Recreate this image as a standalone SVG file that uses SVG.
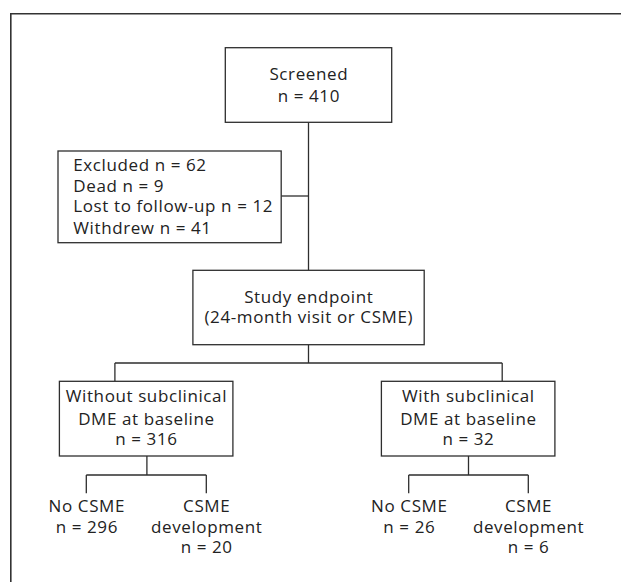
<svg xmlns="http://www.w3.org/2000/svg" width="621" height="582" viewBox="0 0 621 582">
<style>
.box{fill:#fff;stroke:#2e2e2e;stroke-width:1.3}
.ln{fill:none;stroke:#2e2e2e;stroke-width:1.3}
text{font-family:"Open Sans","Noto Sans","DejaVu Sans",sans-serif;font-size:17px;letter-spacing:0.6px;fill:#222}
.c{text-anchor:middle}
</style>
<rect width="621" height="582" fill="#fff"/>
<path d="M10.8,582 V13.8 H621" fill="none" stroke="#333" stroke-width="1.6"/>
<g id="connectors">
<path class="ln" d="M308.5,122.3 V270.3"/>
<path class="ln" d="M281.2,196 H308.5"/>
<path class="ln" d="M308.5,344.7 V363 M114.9,363 H502.2 M114.9,363 V381.3 M502.2,363 V381.3"/>
<path class="ln" d="M146.9,456 V475 M86.3,475 H206.3 M86.3,475 V493.3 M206.3,475 V493.3"/>
<path class="ln" d="M468.5,456 V475 M408.7,475 H528.3 M408.7,475 V493.3 M528.3,475 V493.3"/>
</g>
<g id="screened">
<rect class="box" x="225.3" y="47.7" width="166.4" height="74.6"/>
<text class="c" x="308.8" y="80">Screened</text>
<text class="c" x="308.8" y="101.7">n = 410</text>
</g>
<g id="excluded">
<rect class="box" x="58" y="151" width="223.2" height="91.7"/>
<text x="73.3" y="170.7">Excluded n = 62</text>
<text x="73.3" y="191.7">Dead n = 9</text>
<text x="73.3" y="212.3">Lost to follow-up n = 12</text>
<text x="73.3" y="234.3">Withdrew n = 41</text>
</g>
<g id="endpoint">
<rect class="box" x="192.9" y="270.3" width="231.3" height="74.4"/>
<text class="c" x="308.8" y="303.3">Study endpoint</text>
<text class="c" x="308.8" y="323.3">(24-month visit or CSME)</text>
</g>
<g id="without">
<rect class="box" x="59.4" y="381.3" width="173.5" height="74.7"/>
<text class="c" x="146.4" y="401.7">Without subclinical</text>
<text class="c" x="146.4" y="425">DME at baseline</text>
<text class="c" x="146.4" y="445">n = 316</text>
</g>
<g id="with">
<rect class="box" x="381.4" y="381.3" width="173.5" height="74.7"/>
<text class="c" x="468.4" y="401.7">With subclinical</text>
<text class="c" x="468.4" y="425">DME at baseline</text>
<text class="c" x="468.4" y="445">n = 32</text>
</g>
<g id="no-csme-left">
<text class="c" x="86.8" y="511.7">No CSME</text>
<text class="c" x="86.8" y="533.3">n = 296</text>
</g>
<g id="csme-left">
<text class="c" x="206.7" y="511.7">CSME</text>
<text class="c" x="206.7" y="533.3">development</text>
<text class="c" x="206.7" y="552.7">n = 20</text>
</g>
<g id="no-csme-right">
<text class="c" x="409.3" y="511.7">No CSME</text>
<text class="c" x="409.3" y="533.3">n = 26</text>
</g>
<g id="csme-right">
<text class="c" x="528.6" y="511.7">CSME</text>
<text class="c" x="528.6" y="533.3">development</text>
<text class="c" x="528.6" y="552.7">n = 6</text>
</g>
</svg>
